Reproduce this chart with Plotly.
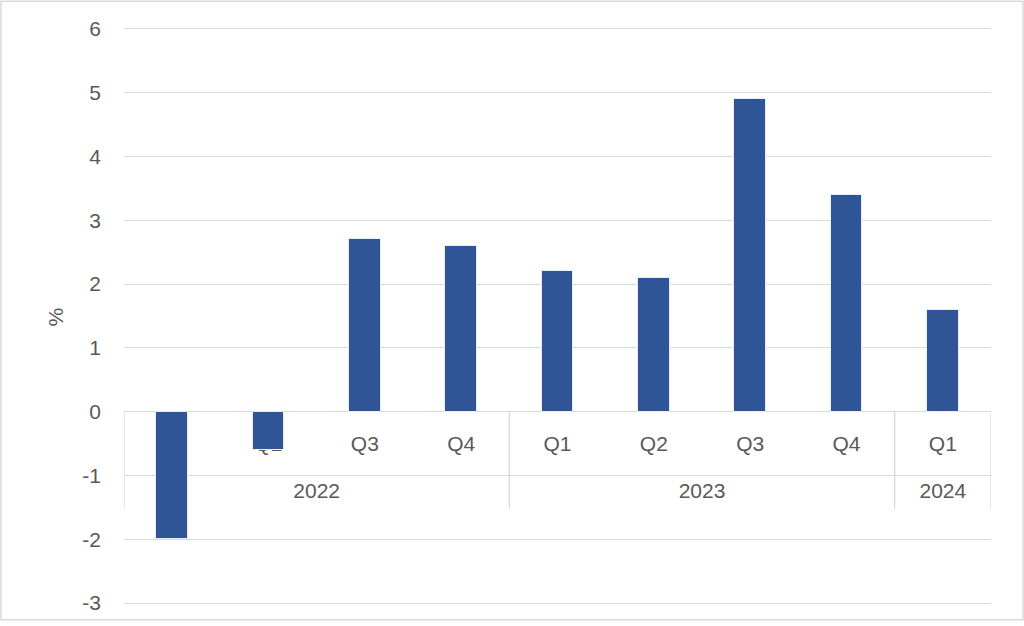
import plotly.graph_objects as go

years = ["2022", "2022", "2022", "2022", "2023", "2023", "2023", "2023", "2024"]
quarters = ["Q1", "Q2", "Q3", "Q4", "Q1", "Q2", "Q3", "Q4", "Q1"]
values = [-2.0, -0.6, 2.7, 2.6, 2.2, 2.1, 4.9, 3.4, 1.6]
y_ticks = [-3, -2, -1, 0, 1, 2, 3, 4, 5, 6]
y_tick_text = [str(v) for v in y_ticks]

n = len(values)
xs = list(range(n))
TEXT = "#595959"
GRID = "#D9D9D9"
FONT = "Liberation Sans"

# year groups
groups = []
for i, y in enumerate(years):
    if groups and groups[-1][0] == y:
        groups[-1][2] = i
    else:
        groups.append([y, i, i])

fig = go.Figure()

# category labels (base subplot, drawn beneath bars)
fig.add_trace(go.Scatter(
    x=xs, y=[-0.53] * n, mode="text", text=quarters,
    textfont=dict(family=FONT, size=21, color=TEXT),
    hoverinfo="skip", showlegend=False, xaxis="x", yaxis="y"))
fig.add_trace(go.Scatter(
    x=[(g[1] + g[2]) / 2 for g in groups], y=[-1.27] * len(groups),
    mode="text", text=[g[0] for g in groups],
    textfont=dict(family=FONT, size=21, color=TEXT),
    hoverinfo="skip", showlegend=False, xaxis="x", yaxis="y"))

# bars on overlaid axes so they sit on top of the labels
fig.add_trace(go.Bar(
    x=xs, y=values, width=0.33,
    marker=dict(color="#2F5597", line=dict(color="#E8EEF7", width=1)),
    showlegend=False, xaxis="x2", yaxis="y2"))

shapes = []
bounds = [groups[0][1] - 0.5] + [g[2] + 0.5 for g in groups]
for b in bounds:
    shapes.append(dict(type="line", xref="x", yref="y", x0=b, x1=b, y0=0, y1=-1.52,
                       line=dict(color=GRID, width=1.3), layer="below"))

W, H = 1024, 626
L, R, T, B = 124, 33, 27, 16
pw, ph = W - L - R, H - T - B
# chart border
shapes.append(dict(type="rect", xref="paper", yref="paper",
                   x0=-(L - 1) / pw, x1=(W - L - 1) / pw,
                   y0=-(B - 1) / ph, y1=(H - B - 1) / ph,
                   line=dict(color="#D9D9D9", width=1.5), layer="below"))

xr = [-0.5, n - 0.5]
yr = [-3.03, 6.03]
fig.update_layout(
    width=W, height=H,
    margin=dict(l=L, r=R, t=T, b=B),
    plot_bgcolor="white", paper_bgcolor="white",
    xaxis=dict(range=xr, showgrid=False, showticklabels=False, zeroline=False,
               showline=False, ticks=""),
    xaxis2=dict(range=xr, overlaying="x", visible=False),
    yaxis=dict(range=yr, tickvals=y_ticks, ticktext=y_tick_text,
               showgrid=True, gridcolor=GRID, gridwidth=1.3,
               zeroline=True, zerolinecolor=GRID, zerolinewidth=1.3,
               showline=False, ticks="", ticklabelstandoff=22,
               tickfont=dict(family=FONT, size=21, color=TEXT)),
    yaxis2=dict(range=yr, overlaying="y", visible=False),
    shapes=shapes,
    annotations=[dict(text="%", xref="paper", yref="paper",
                      x=-(L - 55) / pw, y=(H - B - 320) / ph,
                      xanchor="center", yanchor="middle",
                      textangle=-90, showarrow=False,
                      font=dict(family=FONT, size=21, color=TEXT))],
    bargap=0,
)

fig.write_html("out.html", config={"displayModeBar": False},
               post_script="document.body.style.margin='0';document.body.style.overflow='hidden';")
